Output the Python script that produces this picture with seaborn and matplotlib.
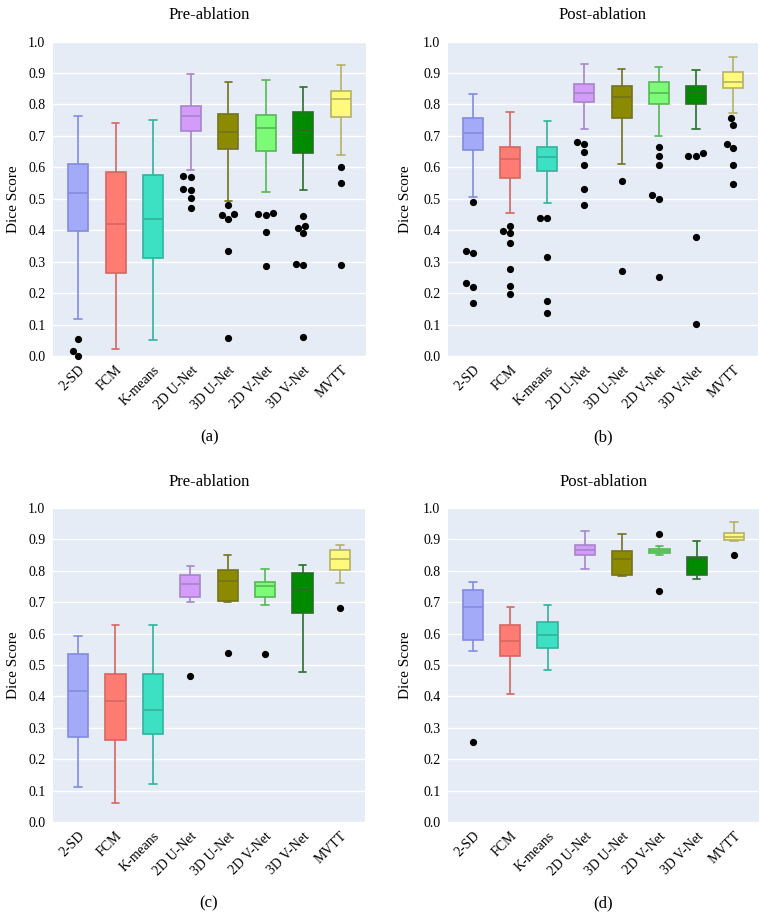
import numpy as np
import pandas as pd
import matplotlib.pyplot as plt
import seaborn as sns

# ---------------------------------------------------------
# Data
# ---------------------------------------------------------
methods = ["2-SD", "FCM", "K-means", "2D U-Net", "3D U-Net", "2D V-Net", "3D V-Net", "MVTT"]

# per method: lower whisker, Q1, median, Q3, upper whisker
a_stats = [
    [0.117, 0.399, 0.519, 0.610, 0.762],
    [0.021, 0.263, 0.420, 0.585, 0.740],
    [0.050, 0.311, 0.437, 0.577, 0.749],
    [0.592, 0.714, 0.762, 0.795, 0.897],
    [0.492, 0.659, 0.712, 0.768, 0.872],
    [0.521, 0.652, 0.724, 0.766, 0.877],
    [0.527, 0.644, 0.719, 0.775, 0.854],
    [0.640, 0.761, 0.818, 0.843, 0.924],
]
a_outliers = [
    [0.055, 0.016, 0.000],
    [],
    [],
    [0.569, 0.571, 0.531, 0.529, 0.501, 0.471],
    [0.481, 0.450, 0.447, 0.436, 0.334, 0.057],
    [0.455, 0.453, 0.447, 0.395, 0.287],
    [0.446, 0.413, 0.407, 0.391, 0.292, 0.290, 0.062],
    [0.602, 0.549, 0.288],
]

b_stats = [
    [0.507, 0.656, 0.708, 0.758, 0.832],
    [0.454, 0.567, 0.626, 0.663, 0.776],
    [0.485, 0.587, 0.634, 0.665, 0.747],
    [0.723, 0.807, 0.835, 0.864, 0.927],
    [0.610, 0.756, 0.822, 0.857, 0.914],
    [0.699, 0.801, 0.836, 0.870, 0.920],
    [0.723, 0.802, 0.838, 0.860, 0.908],
    [0.772, 0.851, 0.872, 0.904, 0.952],
]
b_outliers = [
    [0.490, 0.334, 0.327, 0.232, 0.220, 0.168],
    [0.414, 0.391, 0.396, 0.358, 0.277, 0.222, 0.196],
    [0.438, 0.438, 0.316, 0.175, 0.137],
    [0.673, 0.681, 0.648, 0.607, 0.531, 0.479],
    [0.556, 0.271],
    [0.664, 0.637, 0.608, 0.511, 0.499, 0.250],
    [0.647, 0.637, 0.637, 0.377, 0.101],
    [0.736, 0.758, 0.674, 0.661, 0.606, 0.547],
]

c_stats = [
    [0.112, 0.272, 0.417, 0.535, 0.592],
    [0.061, 0.261, 0.384, 0.472, 0.626],
    [0.122, 0.279, 0.357, 0.471, 0.626],
    [0.701, 0.717, 0.757, 0.786, 0.815],
    [0.700, 0.705, 0.767, 0.804, 0.849],
    [0.691, 0.716, 0.751, 0.763, 0.806],
    [0.478, 0.666, 0.738, 0.794, 0.817],
    [0.762, 0.803, 0.839, 0.867, 0.881],
]
c_outliers = [[], [], [], [0.466], [0.538], [0.534], [], [0.680]]

d_stats = [
    [0.543, 0.579, 0.684, 0.739, 0.764],
    [0.409, 0.530, 0.578, 0.627, 0.686],
    [0.483, 0.553, 0.594, 0.638, 0.691],
    [0.805, 0.851, 0.867, 0.881, 0.927],
    [0.782, 0.787, 0.837, 0.863, 0.918],
    [0.851, 0.856, 0.863, 0.869, 0.880],
    [0.774, 0.786, 0.837, 0.843, 0.896],
    [0.894, 0.897, 0.907, 0.920, 0.954],
]
d_outliers = [[0.254], [], [], [], [], [0.917, 0.735], [], [0.851]]

fill_colors = ["#A3AAF8", "#FF7C75", "#3EE0C4", "#D39CFA",
               "#8C8A00", "#7CFA78", "#008A00", "#FFFA7C"]
line_colors = ["#838BDD", "#D7665F", "#32B39C", "#A785C9",
               "#74721C", "#56B856", "#2A6E2A", "#B5B166"]

titles = ["Pre-ablation", "Post-ablation", "Pre-ablation", "Post-ablation"]
tags = ["(a)", "(b)", "(c)", "(d)"]


def long_table(per_method):
    rows = []
    for m, vals in zip(methods, per_method):
        for v in vals:
            rows.append({"Method": m, "Dice": v})
    return pd.DataFrame(rows, columns=["Method", "Dice"])


sns.set_theme(style="darkgrid")
plt.rcParams["font.family"] = ["Liberation Serif", "DejaVu Serif"]

fig = plt.figure(figsize=(7.62, 9.13), dpi=100)
W, H = 762, 913
# axes boxes in pixels: left, top, right, bottom
boxes = [(53, 41.5, 366, 356), (448, 41.5, 758, 356),
         (53, 508, 365, 822), (448, 508, 759, 822)]
panel_data = [(a_stats, a_outliers), (b_stats, b_outliers),
              (c_stats, c_outliers), (d_stats, d_outliers)]

for k, ((l, t, r, b), (stats, outs)) in enumerate(zip(boxes, panel_data)):
    ax = fig.add_axes([l / W, 1 - b / H, (r - l) / W, (b - t) / H])
    ax.set_facecolor("#E5ECF6")

    sns.boxplot(data=long_table(stats), x="Method", y="Dice", hue="Method",
                order=methods, hue_order=methods, palette=fill_colors,
                saturation=1, whis=(0, 100), width=0.54, linewidth=1.2,
                showfliers=False, legend=False, capwidths=0.2, ax=ax)
    for cont, lc in zip(ax.containers, line_colors):
        for patch in cont.boxes:
            patch.set_edgecolor(lc)
        for ln in list(cont.whiskers) + list(cont.caps) + list(cont.medians):
            ln.set_color(lc)

    out_df = long_table(outs)
    if len(out_df):
        sns.swarmplot(data=out_df, x="Method", y="Dice", order=methods,
                      color="black", size=5.2, ax=ax)
        for coll in ax.collections:
            coll.set_clip_on(False)

    ax.set_xlim(-0.67, 7.67)
    ax.set_ylim(0, 1.0)
    ax.set_yticks(np.arange(0, 1.01, 0.1))
    ax.set_yticklabels([f"{v:.1f}" for v in np.arange(0, 1.01, 0.1)])
    ax.grid(axis="y", color="white", linewidth=1)
    ax.grid(axis="x", visible=False)
    for s in ax.spines.values():
        s.set_visible(False)
    ax.tick_params(axis="both", length=4, width=1, color="#C9D2DF",
                   labelsize=10, labelcolor="black", pad=1.5)
    ax.set_xticks(range(len(methods)))
    ax.set_xticklabels(methods, rotation=45, ha="right", rotation_mode="anchor")
    ax.set_xlabel("")
    ax.set_ylabel("Dice Score", fontsize=11, color="black")
    ax.yaxis.set_label_coords(-0.105 if k % 2 == 0 else -0.115, 0.5)
    ax.set_title(titles[k], fontsize=12, pad=16, color="black")

    fig.text(((l + r) / 2) / W, 1 - (b + 81) / H, tags[k],
             ha="center", va="center", fontsize=12, color="black")

fig.savefig("out.png", dpi=100, facecolor="white")
